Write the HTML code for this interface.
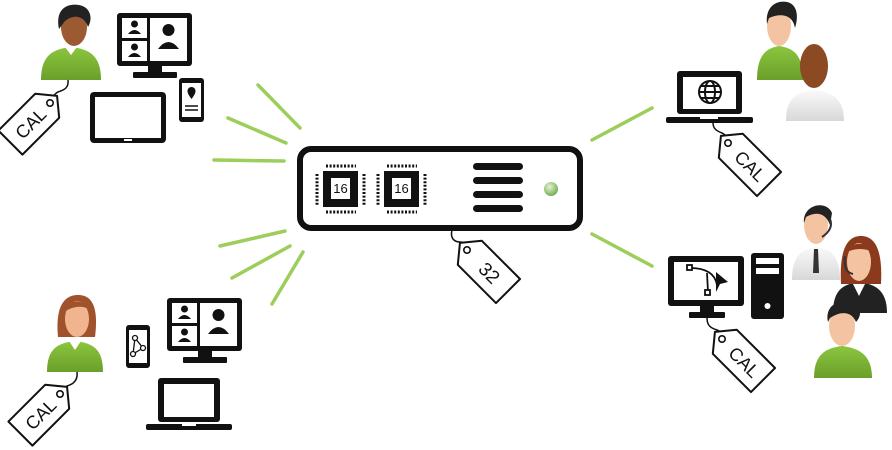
<!DOCTYPE html>
<html><head><meta charset="utf-8"><style>html,body{margin:0;padding:0;background:#fff}svg{display:block}</style></head>
<body>
<svg width="892" height="450" viewBox="0 0 892 450" xmlns="http://www.w3.org/2000/svg" font-family="Liberation Sans, sans-serif">
<defs>
<radialGradient id="led" cx="0.4" cy="0.35" r="0.7"><stop offset="0" stop-color="#e6f5d0"/><stop offset="1" stop-color="#6aa84f"/></radialGradient>
<linearGradient id="green" x1="0" y1="0" x2="0" y2="1"><stop offset="0" stop-color="#8cc63f"/><stop offset="1" stop-color="#6a9f2a"/></linearGradient>
<linearGradient id="white" x1="0" y1="0" x2="0" y2="1"><stop offset="0" stop-color="#fafafa"/><stop offset="1" stop-color="#d8d8d8"/></linearGradient>
<g id="tagL"><path d="M0,-17 H52 L66,0 L52,17 H0 Z" fill="#fff" stroke="#111" stroke-width="2" stroke-linejoin="round"/><circle cx="56" cy="0" r="3.2" fill="none" stroke="#111" stroke-width="1.6"/></g>
<g id="tagR"><path d="M0,0 L14,-17 H68 V17 H14 Z" fill="#fff" stroke="#111" stroke-width="2" stroke-linejoin="round"/><circle cx="10" cy="0" r="3.2" fill="none" stroke="#111" stroke-width="1.6"/></g>
<g id="vid"><rect x="0" y="0" width="75" height="53" rx="3" fill="#111"/><rect x="5" y="5" width="25" height="20" fill="#fff"/><rect x="5" y="28" width="25" height="20" fill="#fff"/><rect x="33" y="5" width="37" height="43" fill="#fff"/>
<circle cx="17.5" cy="11" r="3.5" fill="#111"/><path d="M11,21 q6.5,-8 13,0 z" fill="#111"/><circle cx="17.5" cy="34" r="3.5" fill="#111"/><path d="M11,44 q6.5,-8 13,0 z" fill="#111"/>
<circle cx="51.5" cy="17" r="6" fill="#111"/><path d="M41,36 q10.5,-14 21,0 z" fill="#111"/>
<rect x="31" y="53" width="14" height="7" fill="#111"/><rect x="16" y="59" width="44" height="6" rx="1" fill="#111"/></g>
</defs>

<!-- rays -->
<g stroke-linecap="round" stroke-width="3.5" stroke="#8cc63f" opacity="0.85">
<line x1="258" y1="85" x2="300" y2="128"/>
<line x1="228" y1="118" x2="286" y2="143"/>
<line x1="214" y1="160" x2="284" y2="161"/>
<line x1="220" y1="246" x2="285" y2="231"/>
<line x1="232" y1="278" x2="290" y2="246"/>
<line x1="272" y1="304" x2="303" y2="252"/>
<line x1="592" y1="140" x2="652" y2="108"/>
<line x1="592" y1="234" x2="652" y2="266"/>
</g>

<!-- server -->
<rect x="300" y="149" width="280" height="79" rx="11" fill="#fff" stroke="#111" stroke-width="6"/>
<g id="chip">
<rect x="323" y="171" width="35" height="36" fill="#111"/><rect x="331" y="178" width="19" height="21" fill="#fff"/>
<g stroke="#111" stroke-width="3" stroke-dasharray="2 1.6"><line x1="326" y1="166" x2="356" y2="166"/><line x1="326" y1="212" x2="356" y2="212"/><line x1="317" y1="174" x2="317" y2="205"/><line x1="364" y1="174" x2="364" y2="205"/></g>
<text x="340.5" y="193" font-size="13" text-anchor="middle" fill="#111">16</text></g>
<use href="#chip" x="61"/>
<g fill="#111"><rect x="473" y="163" width="50" height="7" rx="3.5"/><rect x="473" y="177" width="50" height="7" rx="3.5"/><rect x="473" y="191" width="50" height="7" rx="3.5"/><rect x="473" y="205" width="50" height="7" rx="3.5"/></g>
<circle cx="551" cy="189" r="7" fill="url(#led)"/>
<path d="M452,230 c-2,8 2,12 8,12 c4,0 6,2 6,6" fill="none" stroke="#111" stroke-width="1.5"/>
<g transform="translate(467,250) rotate(45) translate(-10,0)"><use href="#tagR"/><text x="42" y="7" font-size="19" text-anchor="middle" fill="#111">32</text></g>

<!-- top-left person -->
<g transform="translate(71,5)">
<path d="M-30,75 C-30,50 -18,44 0,42 C18,44 30,50 30,75 Z" fill="url(#green)"/>
<path d="M-6,42 L0,50 L6,42 Z" fill="#fff"/>
<ellipse cx="3" cy="22" rx="13" ry="19" fill="#9c5a32"/>
<path d="M-12,24 C-16,4 -4,-2 8,0 C20,2 22,14 17,22 C14,12 4,8 -6,16 Z" fill="#222"/>
</g>
<path d="M68,80 c1,8 -4,10 -10,12 c-4,2 -6,6 -8,10" fill="none" stroke="#111" stroke-width="1.5"/>
<g transform="translate(50,103) rotate(-45) translate(-56,0)"><use href="#tagL"/><text x="28" y="7" font-size="18" text-anchor="middle" fill="#111">CAL</text></g>
<use href="#vid" x="117" y="13"/>
<rect x="90" y="92" width="76" height="51" rx="4" fill="#111"/><rect x="95" y="97" width="66" height="41" fill="#fff"/><rect x="124" y="139" width="8" height="2" fill="#fff"/>
<rect x="179" y="78" width="25" height="44" rx="3" fill="#111"/><rect x="182" y="83" width="19" height="34" fill="#fff"/>
<path d="M191.5,99 c-3,-4 -4,-6 -4,-8 a4,4 0 0 1 8,0 c0,2 -1,4 -4,8z" fill="#111"/><line x1="185" y1="106" x2="198" y2="106" stroke="#111" stroke-width="1.5"/><line x1="185" y1="110" x2="198" y2="110" stroke="#111" stroke-width="1.5"/>

<!-- bottom-left person -->
<g transform="translate(75,295)">
<path d="M-28,77 C-28,54 -18,48 0,46 C18,48 28,54 28,77 Z" fill="url(#green)"/>
<path d="M-6,46 L0,55 L6,46 Z" fill="#fff"/>
<path d="M-17,42 C-20,10 -10,0 3,0 C16,0 24,10 20,42 Z" fill="#a0522d"/>
<ellipse cx="2" cy="24" rx="12" ry="18" fill="#f0b48e"/>
<path d="M-12,18 C-10,4 10,2 16,16 C10,10 -2,10 -12,18Z" fill="#a0522d"/>
</g>
<path d="M77,372 c1,8 -3,12 -10,14 c-4,2 -5,4 -7,8" fill="none" stroke="#111" stroke-width="1.5"/>
<g transform="translate(60,394) rotate(-45) translate(-56,0)"><use href="#tagL"/><text x="28" y="7" font-size="18" text-anchor="middle" fill="#111">CAL</text></g>
<rect x="126" y="325" width="24" height="43" rx="3" fill="#111"/><rect x="129" y="330" width="18" height="33" fill="#fff"/>
<g stroke="#111" stroke-width="1.3" fill="#fff"><path d="M135,338 L143,348 L133,354 Z" fill="none"/><circle cx="135" cy="338" r="2.5"/><circle cx="143" cy="348" r="2.5"/><circle cx="133" cy="354" r="2.5"/></g>
<use href="#vid" x="167" y="298"/>
<rect x="158" y="378" width="62" height="44" rx="3" fill="#111"/><rect x="164" y="384" width="50" height="33" fill="#fff"/>
<rect x="146" y="424" width="86" height="6" rx="2" fill="#111"/><rect x="182" y="424" width="14" height="2" fill="#fff"/>

<!-- top-right -->
<rect x="677" y="71" width="65" height="43" rx="3" fill="#111"/><rect x="683" y="77" width="53" height="32" fill="#fff"/>
<rect x="666" y="117" width="87" height="6" rx="2" fill="#111"/><rect x="700" y="117" width="18" height="2" fill="#fff"/>
<g fill="none" stroke="#111" stroke-width="2"><circle cx="710" cy="92" r="11"/><ellipse cx="710" cy="92" rx="5" ry="11"/><line x1="699" y1="92" x2="721" y2="92"/><line x1="701" y1="86" x2="719" y2="86"/><line x1="701" y1="98" x2="719" y2="98"/></g>
<path d="M713,123 c0,6 4,8 9,10 c4,2 5,4 5,8" fill="none" stroke="#111" stroke-width="1.5"/>
<g transform="translate(728,143) rotate(45) translate(-10,0)"><use href="#tagR"/><text x="42" y="7" font-size="18" text-anchor="middle" fill="#111">CAL</text></g>
<g transform="translate(779,2)">
<path d="M-22,78 C-22,52 -12,46 0,44 C14,46 24,52 24,78 Z" fill="url(#green)"/>
<ellipse cx="0" cy="24" rx="12" ry="20" fill="#f4c4a2"/>
<path d="M-12,22 C-14,4 -2,-2 8,0 C18,2 20,14 16,26 C14,14 4,10 -10,16 Z" fill="#222"/>
</g>
<g transform="translate(814,42)">
<path d="M-28,79 C-28,56 -18,50 0,48 C18,50 30,56 30,79 Z" fill="url(#white)"/>
<ellipse cx="0" cy="24" rx="14" ry="22" fill="#8b4a22"/>
</g>

<!-- bottom-right -->
<rect x="668" y="256" width="76" height="50" rx="3" fill="#111"/><rect x="674" y="262" width="64" height="38" fill="#fff"/>
<rect x="700" y="306" width="14" height="7" fill="#111"/><rect x="689" y="312" width="36" height="6" rx="1" fill="#111"/>
<g stroke="#111" stroke-width="1.8" fill="#fff"><path d="M690,268 c15,0 25,5 27,17" fill="none"/><line x1="707" y1="273" x2="708" y2="292"/><rect x="687" y="265" width="5" height="5"/><rect x="705" y="290" width="5" height="5"/></g>
<path d="M716,272 L728,282 L720,284 L716,292 Z" fill="#111"/>
<rect x="751" y="253" width="33" height="66" rx="3" fill="#111"/><rect x="756" y="258" width="23" height="6" fill="#fff"/><rect x="756" y="268" width="23" height="6" fill="#fff"/><circle cx="767.5" cy="306" r="3" fill="#fff"/>
<path d="M707,318 c0,8 4,10 10,12 c4,1 5,4 5,8" fill="none" stroke="#111" stroke-width="1.5"/>
<g transform="translate(722,339) rotate(45) translate(-10,0)"><use href="#tagR"/><text x="42" y="7" font-size="18" text-anchor="middle" fill="#111">CAL</text></g>
<g transform="translate(816,203)">
<path d="M-24,77 C-24,52 -14,46 0,44 C14,46 24,52 24,77 Z" fill="url(#white)"/>
<path d="M-2,46 L2,46 L3,70 L-3,70 Z" fill="#333"/>
<ellipse cx="0" cy="22" rx="12" ry="19" fill="#f4c4a2"/>
<path d="M-12,20 C-14,2 10,-4 16,10 L14,22 C10,10 0,8 -10,14Z" fill="#222"/>
<path d="M14,16 q4,10 -8,18" fill="none" stroke="#333" stroke-width="2"/>
</g>
<g transform="translate(859,236)">
<path d="M-26,77 C-26,54 -16,48 0,46 C16,48 28,54 28,77 Z" fill="#222"/>
<path d="M-6,48 L0,60 L6,48 Z" fill="#fff"/>
<path d="M-18,48 C-20,10 -10,0 2,0 C14,0 24,10 22,48 Z" fill="#8b3a1e"/>
<ellipse cx="0" cy="26" rx="12" ry="19" fill="#f4c4a2"/>
<path d="M-12,16 C-10,6 10,4 14,16 C6,12 -4,12 -12,16Z" fill="#8b3a1e"/>
<path d="M-14,20 q-2,16 8,18" fill="none" stroke="#333" stroke-width="2"/>
</g>
<g transform="translate(842,300)">
<path d="M-28,78 C-28,54 -16,48 0,46 C16,48 30,54 30,78 Z" fill="url(#green)"/>
<ellipse cx="0" cy="26" rx="13" ry="20" fill="#f4c4a2"/>
<path d="M-14,22 C-18,4 0,-2 10,2 C20,6 20,16 14,22 C10,12 0,10 -12,18Z" fill="#222"/>
</g>
</svg>
</body></html>
